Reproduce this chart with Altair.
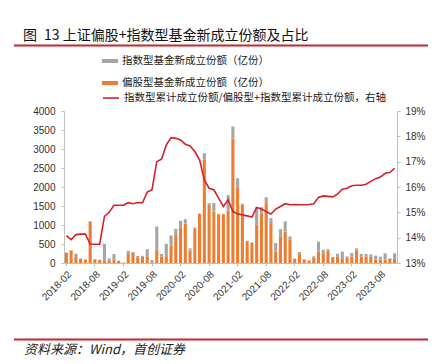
import altair as alt
import pandas as pd

# ---------------- data ----------------
months = [f"{y}-{m:02d}" for y in range(2018, 2024) for m in range(1, 13)][1:-1]  # 2018-02 .. 2023-11

tick_labels = ["2018-02", "2018-08", "2019-02", "2019-08", "2020-02", "2020-08",
               "2021-02", "2021-08", "2022-02", "2022-08", "2023-02", "2023-08"]

# 偏股型基金新成立份额（亿份）
equity_vals = [265, 330, 160, 115, 90, 1090, 95, 80, 60, 55,
               100, 55, 5, 235, 280, 135, 175, 160, 20, 340,
               170, 180, 460, 740, 940, 1040, 330, 900, 1290, 2730,
               1530, 1355, 1280, 1285, 1380, 3280, 1995, 1540, 575, 530,
               1005, 1310, 1575, 1050, 305, 700, 830, 610, 110, 245,
               90, 65, 150, 305, 260, 330, 155, 160, 105, 150,
               175, 325, 175, 175, 160, 90, 90, 90, 105, 105]

# 指数型基金新成立份额（亿份）
index_vals = [10, 5, 85, 5, 5, 10, 5, 5, 445, 65,
              135, 5, 10, 85, 10, 50, 15, 205, 60, 620,
              65, 325, 265, 160, 170, 115, 55, 35, 10, 160,
              45, 220, 15, 10, 405, 310, 235, 20, 10, 10,
              465, 160, 155, 130, 220, 190, 265, 90, 5, 45,
              15, 5, 25, 255, 90, 35, 5, 85, 195, 25,
              85, 60, 60, 60, 70, 105, 75, 165, 15, 150]

# 指数型累计成立份额/偏股型+指数型累计成立份额（%，右轴）
ratio_vals = [14.08, 13.92, 14.12, 14.14, 14.14, 13.75, 13.74, 13.74, 14.84, 15.00,
              15.28, 15.28, 15.28, 15.38, 15.34, 15.39, 15.38, 15.80, 15.89, 17.00,
              17.10, 17.66, 17.95, 17.92, 17.86, 17.69, 17.62, 17.40, 17.07, 16.28,
              15.95, 15.89, 15.56, 15.23, 15.49, 15.03, 14.94, 14.90, 14.86, 14.81,
              15.19, 15.13, 15.03, 14.93, 15.13, 15.23, 15.34, 15.30, 15.31, 15.30,
              15.30, 15.31, 15.34, 15.59, 15.65, 15.63, 15.61, 15.72, 15.91, 15.95,
              16.05, 16.07, 16.07, 16.11, 16.22, 16.33, 16.39, 16.54, 16.57, 16.74]

lab_index = "指数型基金新成立份额（亿份）"
lab_equity = "偏股型基金新成立份额（亿份）"
lab_ratio = "指数型累计成立份额/偏股型+指数型累计成立份额，右轴"
title_text = "图\u200213 上证偏股+指数型基金新成立份额及占比"
source_text = "资料来源：Wind，首创证券"

# ---------------- styling ----------------
GREY = "#A5A5A5"
ORANGE = "#ED7D31"
RED = "#D7202A"
TITLE_RED = "#C9252C"
AXIS_GREY = "#BFBFBF"
NUM_FONT = "Liberation Sans"
CJK_FONT = "Noto Sans CJK SC"

bars_df = pd.DataFrame(
    [{"month": m, "series": lab_equity, "value": v, "ord": 0} for m, v in zip(months, equity_vals)]
    + [{"month": m, "series": lab_index, "value": v, "ord": 1} for m, v in zip(months, index_vals)]
)
line_df = pd.DataFrame({"month": months, "ratio": ratio_vals, "name": lab_ratio})

x_enc = alt.X(
    "month:O", sort=months,
    scale=alt.Scale(paddingInner=0.35, paddingOuter=0.175),
    axis=alt.Axis(values=tick_labels, labelAngle=-45, title=None,
                  labelFont=NUM_FONT, labelFontSize=10, labelColor="#333333",
                  domainColor=AXIS_GREY, tickColor=AXIS_GREY, tickSize=3,
                  labelPadding=3, grid=False),
)

bar_legend = alt.Legend(
    title=None, orient="none", legendX=38, legendY=-58,
    symbolType="M-1,-0.25L1,-0.25L1,0.25L-1,0.25Z", symbolSize=256,
    symbolStrokeWidth=0, rowPadding=8, labelOffset=4,
    labelFont=CJK_FONT, labelFontSize=10.5, labelColor="#222222", labelLimit=400,
)

bars = alt.Chart(bars_df).mark_bar().encode(
    x=x_enc,
    y=alt.Y("value:Q", stack="zero",
            scale=alt.Scale(domain=[0, 4000], nice=False),
            axis=alt.Axis(values=list(range(0, 4001, 500)), format="d", title=None, grid=False,
                          labelFont=NUM_FONT, labelFontSize=10, labelColor="#333333",
                          domainColor=AXIS_GREY, tickColor=AXIS_GREY, tickSize=3,
                          labelPadding=6)),
    color=alt.Color("series:N",
                    scale=alt.Scale(domain=[lab_index, lab_equity], range=[GREY, ORANGE]),
                    legend=bar_legend),
    order=alt.Order("ord:Q"),
)

line_legend = alt.Legend(
    title=None, orient="none", legendX=38, legendY=-22,
    symbolType="stroke", symbolSize=256, symbolStrokeWidth=1.6,
    labelOffset=4, labelFont=CJK_FONT, labelFontSize=10.5, labelColor="#222222",
    labelLimit=400,
)

line = alt.Chart(line_df).mark_line(strokeWidth=1.6).encode(
    x=alt.X("month:O", sort=months),
    y=alt.Y("ratio:Q",
            scale=alt.Scale(domain=[13, 19], nice=False),
            axis=alt.Axis(orient="right", values=[13, 14, 15, 16, 17, 18, 19], title=None,
                          grid=False, labelExpr="datum.value + '%'",
                          labelFont=NUM_FONT, labelFontSize=10, labelColor="#333333",
                          domainColor=AXIS_GREY, tickColor=AXIS_GREY, tickSize=3,
                          labelPadding=5)),
    stroke=alt.Stroke("name:N", scale=alt.Scale(domain=[lab_ratio], range=[RED]),
                      legend=line_legend),
)

title = alt.Chart(pd.DataFrame({"t": [title_text]})).mark_text(
    align="left", baseline="middle", font=CJK_FONT, fontSize=14, color="#111111"
).encode(x=alt.value(-41), y=alt.value(-75), text="t:N")

title_rule = alt.Chart(pd.DataFrame({"a": [0]})).mark_rule(
    color=TITLE_RED, strokeWidth=2
).encode(x=alt.value(-50), x2=alt.value(364), y=alt.value(-65.5))

source = alt.Chart(pd.DataFrame({"t": [source_text]})).mark_text(
    align="left", baseline="middle", font=CJK_FONT, fontSize=13, fontStyle="italic",
    color="#222222"
).encode(x=alt.value(-40), y=alt.value(238.5), text="t:N")

source_rule = alt.Chart(pd.DataFrame({"a": [0]})).mark_rule(
    color=TITLE_RED, strokeWidth=2
).encode(x=alt.value(-50), x2=alt.value(364), y=alt.value(228.5))

chart = (
    alt.layer(bars, line, title, title_rule, source, source_rule)
    .resolve_scale(y="independent", color="independent", stroke="independent")
    .properties(
        width=333, height=152,
        autosize=alt.AutoSizeParams(type="none"),
        padding={"left": 56, "top": 103, "right": 41, "bottom": 93},
        background="white",
    )
    .configure_view(stroke=None)
)

chart.save("out.html", embed_options={"renderer": "svg", "actions": False})
